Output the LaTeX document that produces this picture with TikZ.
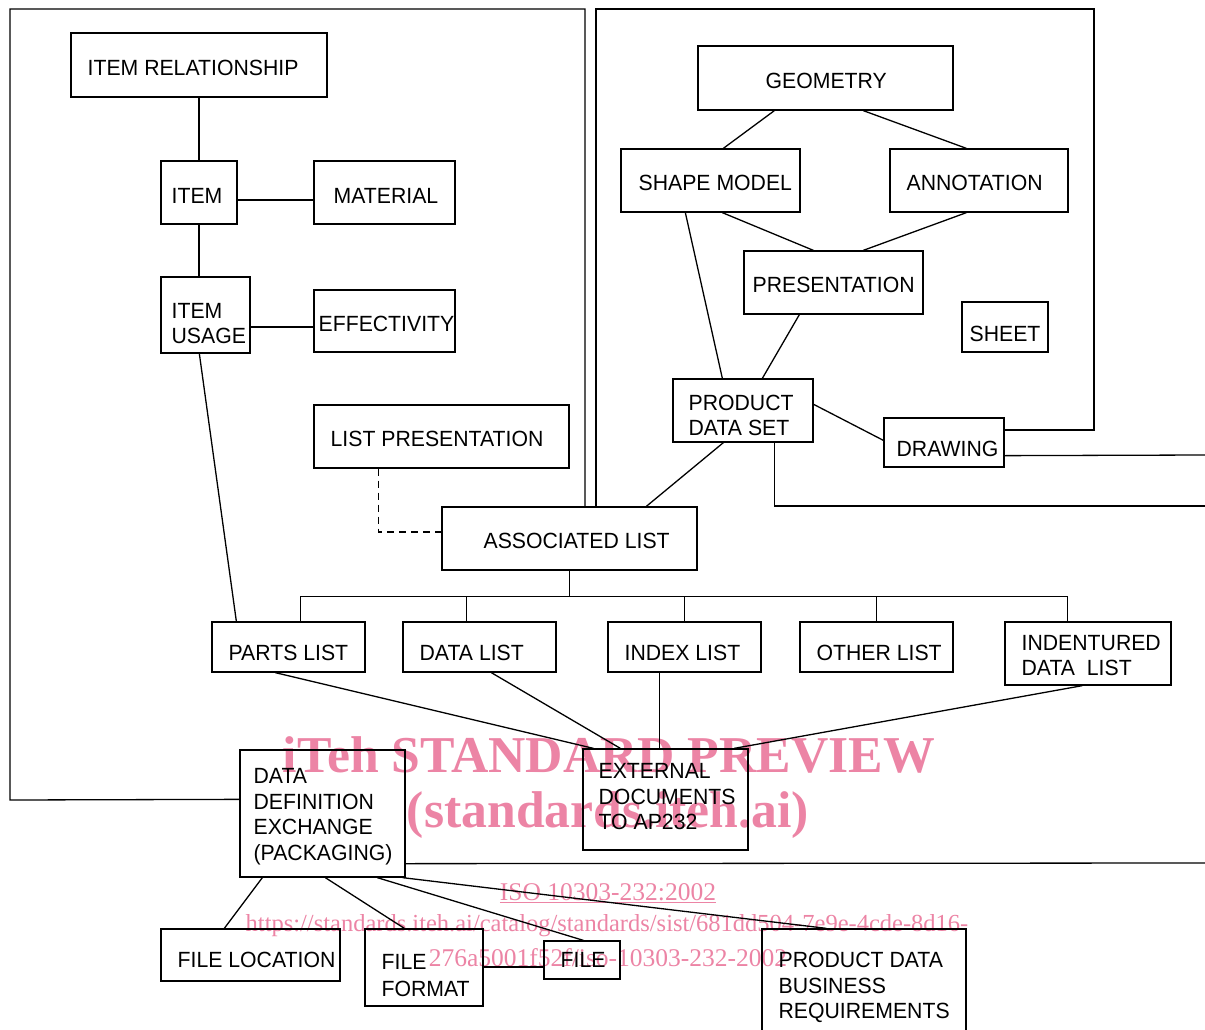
\documentclass[tikz,border=0pt]{standalone}
\usepackage{fontspec}
\setmainfont{Liberation Sans}
\newfontfamily\wmfont{Liberation Serif}
\usepackage{graphicx}
\usetikzlibrary{fit,calc}
\definecolor{wm}{RGB}{236,132,165}
\newcommand\tx[1]{\scalebox{0.965}[1]{\begin{tabular}{@{}l@{}}#1\end{tabular}}}
\begin{document}
\begin{tikzpicture}[x=1pt,y=-1pt,line width=1.3pt,
  box/.style={draw,inner sep=0pt},
  lbl/.style={anchor=west,inner sep=0pt,yshift=-3pt,font=\fontsize{22}{25.5}\selectfont},
  wmbig/.style={text=wm,inner sep=0pt,font=\wmfont\bfseries\fontsize{51.7}{52}\selectfont},
  wmsmall/.style={text=wm,inner sep=0pt,font=\wmfont\fontsize{25.5}{25.5}\selectfont},
  dashlink/.style={dash pattern=on 7pt off 5pt}]
\useasboundingbox (0,0) rectangle (1205,1030);

% watermark (behind)
\node[wmbig] (wm1) at (609,755) {iTeh STANDARD PREVIEW};
\node[wmbig] (wm2) at (608,815) {(standards.iteh.ai)};
\node[wmsmall] (wm3) at (608,893) {\underline{ISO 10303-232:2002}};
\node[wmsmall,font=\wmfont\fontsize{24.5}{25}\selectfont] (wm4) at (607,926) {https://standards.iteh.ai/catalog/standards/sist/681dd504-7e9e-4cde-8d16-};
\node[wmsmall] (wm5) at (608,958) {276a5001f52f/iso-10303-232-2002};

% boxes
\node[box,fit={(71,33) (327,97)}] (itemrel) {};
\node[box,fit={(161,161) (237,224)}] (item) {};
\node[box,fit={(314,161) (455,224)}] (material) {};
\node[box,fit={(161,277) (250,353)}] (itemusage) {};
\node[box,fit={(314,290) (455,352)}] (effect) {};
\node[box,fit={(314,405) (569,468)}] (listpres) {};
\node[box,fit={(442,507) (697,570)}] (assoc) {};
\node[box,fit={(698,46) (953,110)}] (geom) {};
\node[box,fit={(621,149) (800,212)}] (shape) {};
\node[box,fit={(890,149) (1068,212)}] (annot) {};
\node[box,fit={(744,251) (923,314)}] (pres) {};
\node[box,fit={(962,302) (1048,352)}] (sheet) {};
\node[box,fit={(673,379) (813,442)}] (pds) {};
\node[box,fit={(884,418) (1004,467)}] (drawing) {};
\node[box,fit={(212,622) (365,672)}] (parts) {};
\node[box,fit={(403,622) (556,672)}] (datalist) {};
\node[box,fit={(608,622) (761,672)}] (index) {};
\node[box,fit={(800,622) (953,672)}] (other) {};
\node[box,fit={(1005,622) (1171,685)}] (indent) {};
\node[box,fit={(240,750) (405,877)}] (datadef) {};
\node[box,fit={(583,749) (748,850)}] (ext) {};
\node[box,fit={(161,929) (340,981)}] (fileloc) {};
\node[box,fit={(365,929) (483,1006)}] (filefmt) {};
\node[box,fit={(544,941) (620,979)}] (file) {};
\node[box,fit={(762,929) (966,1045)}] (pdbr) {};

% labels
\node[lbl] (itemrel-t) at (87,67) {\tx{ITEM RELATIONSHIP}};
\node[lbl] (item-t) at (171,195) {\tx{ITEM}};
\node[lbl] (material-t) at (333,195) {\tx{MATERIAL}};
\node[lbl] (itemusage-t) at (171,323) {\tx{ITEM\\USAGE}};
\node[lbl] (effect-t) at (318,323) {\tx{EFFECTIVITY}};
\node[lbl] (listpres-t) at (330,438) {\tx{LIST PRESENTATION}};
\node[lbl] (assoc-t) at (483,540) {\tx{ASSOCIATED LIST}};
\node[lbl] (geom-t) at (765,80) {\tx{GEOMETRY}};
\node[lbl] (shape-t) at (638,182) {\tx{SHAPE MODEL}};
\node[lbl] (annot-t) at (906,182) {\tx{ANNOTATION}};
\node[lbl] (pres-t) at (752,284) {\tx{PRESENTATION}};
\node[lbl] (sheet-t) at (969,333) {\tx{SHEET}};
\node[lbl] (pds-t) at (688,415) {\tx{PRODUCT\\DATA SET}};
\node[lbl] (drawing-t) at (896,448) {\tx{DRAWING}};
\node[lbl] (parts-t) at (228,652) {\tx{PARTS LIST}};
\node[lbl] (datalist-t) at (419,652) {\tx{DATA LIST}};
\node[lbl] (index-t) at (624,652) {\tx{INDEX LIST}};
\node[lbl] (other-t) at (816,652) {\tx{OTHER LIST}};
\node[lbl] (indent-t) at (1021,655) {\tx{INDENTURED\\DATA\ \ LIST}};
\node[lbl] (datadef-t) at (253,814) {\tx{DATA\\DEFINITION\\EXCHANGE\\(PACKAGING)}};
\node[lbl] (ext-t) at (598,796) {\tx{EXTERNAL\\DOCUMENTS\\TO AP232}};
\node[lbl] (fileloc-t) at (177,959) {\tx{FILE LOCATION}};
\node[lbl,font=\fontsize{22}{27}\selectfont] (filefmt-t) at (381,975) {\tx{FILE\\FORMAT}};
\node[lbl] (file-t) at (560,959) {\tx{FILE}};
\node[lbl] (pdbr-t) at (778,985) {\tx{PRODUCT DATA\\BUSINESS\\REQUIREMENTS}};

% frame corners and edge coordinates
\coordinate (fl1) at (10,800);
\coordinate (fl2) at (10,9);
\coordinate (fl3) at (585,9);
\coordinate (fr1) at (596,9);
\coordinate (fr2) at (1094,9);
\coordinate (fr3) at (1094,430);
\coordinate (edgeA) at (1205,506);
\coordinate (edgeB) at (1205,455);
\coordinate (edgeC) at (1205,863);

% frames
\draw ($(datadef.north west)+(0,50)$) -- (fl1) -- (fl2) -- (fl3) -- (fl3 |- assoc.north);
\draw (fr1 |- assoc.north) -- (fr1) -- (fr2) -- (fr3) -- (fr3 -| drawing.east);
\draw ($(drawing.south east)+(0,-12)$) -- (edgeB);
\draw ($(pds.south west)+(102,0)$) |- (edgeA);
\draw ($(datadef.south east)+(0,-14)$) -- (edgeC);

% left group
\draw (itemrel.south) -- (item.north);
\draw (item.east |- 0,200) -- (material.west |- 0,200);
\draw (item.south) -- (item.south |- itemusage.north);
\draw (itemusage.east |- 0,327) -- (effect.west |- 0,327);
\draw ($(itemusage.south west)+(39,0)$) -- ($(parts.north west)+(25,0)$);
\draw[dashlink] ($(listpres.south west)+(65,0)$) |- ($(assoc.west)+(0,-6.5)$);

% list bus
\draw (assoc.south) -- (assoc.south |- 0,597);
\draw ($(parts.north west)+(89,0)$) -- ++(0,-25) -| ($(indent.north west)+(63,0)$);
\draw ($(datalist.north west)+(64,0)$) -- ++(0,-25);
\draw (index.north) -- ++(0,-25);
\draw (other.north) -- ++(0,-25);

% right group
\draw ($(geom.south west)+(77,0)$) -- ($(shape.north west)+(103,0)$);
\draw ($(geom.south west)+(166,0)$) -- ($(annot.north west)+(77,0)$);
\draw ($(shape.south west)+(102,0)$) -- ($(pres.north west)+(70,0)$);
\draw ($(annot.south west)+(77,0)$) -- ($(pres.north west)+(120,0)$);
\draw ($(shape.south west)+(65,0)$) -- ($(pds.north west)+(50,0)$);
\draw ($(pres.south west)+(56,0)$) -- ($(pds.north west)+(90,0)$);
\draw ($(pds.north east)+(0,26)$) -- ($(drawing.north west)+(0,23)$);
\draw ($(pds.south west)+(51,0)$) -- ($(assoc.north west)+(205,0)$);

% lists to external documents
\draw ($(parts.south west)+(64,0)$) -- ($(ext.north west)+(11,0)$);
\draw ($(datalist.south west)+(89,0)$) -- ($(ext.north west)+(38,0)$);
\draw ($(index.south west)+(52,0)$) -- ($(ext.north west)+(77,0)$);
\draw ($(indent.south west)+(78,0)$) -- ($(ext.north west)+(152,0)$);

% data definition exchange children
\draw ($(datadef.south west)+(23,0)$) -- ($(fileloc.north west)+(64,0)$);
\draw ($(datadef.south west)+(86,0)$) -- ($(filefmt.north west)+(40,0)$);
\draw ($(datadef.south west)+(138,0)$) -- ($(file.north west)+(40,0)$);
\draw ($(datadef.south east)+(-3,0)$) -- ($(pdbr.north west)+(65,0)$);
\draw (filefmt.east |- 0,967) -- (file.west |- 0,967);
\end{tikzpicture}
\end{document}
